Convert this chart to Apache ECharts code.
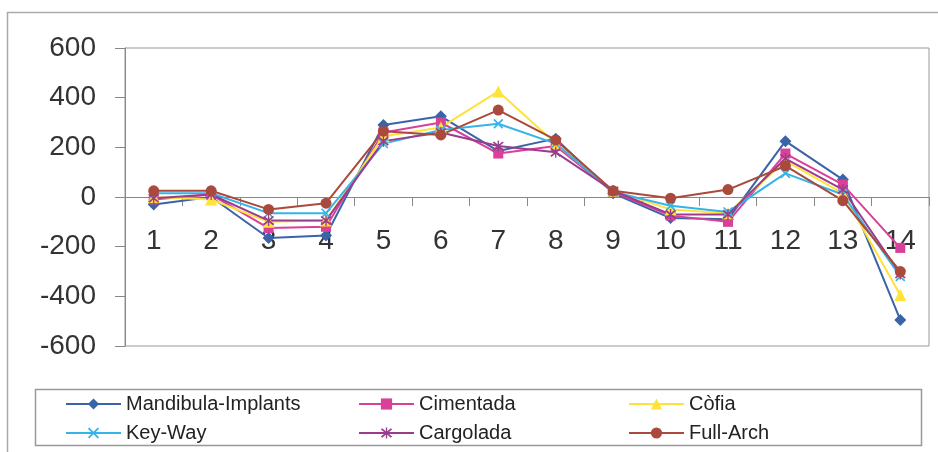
<!DOCTYPE html>
<html>
<head>
<meta charset="utf-8">
<script src="https://cdn.jsdelivr.net/npm/echarts@6/dist/echarts.min.js"></script>
<style>
html,body{margin:0;padding:0;background:#fff;}
#chart{width:938px;height:452px;}
</style>
</head>
<body>
<div id="chart"></div>
<script>
const categories = ['1','2','3','4','5','6','7','8','9','10','11','12','13','14'];
const mandibulaImplants = [-30, 0, -165, -155, 290, 325, 185, 235, 15, -85, -90, 225, 70, -495];
const cimentada        = [-10, 10, -125, -120, 260, 300, 175, 205, 20, -75, -100, 175, 50, -205];
const cofia            = [0, -10, -100, -95, 245, 280, 425, 215, 25, -50, -65, 145, 15, -395];
const keyWay           = [15, 15, -65, -65, 215, 270, 295, 215, 20, -35, -60, 95, 10, -320];
const cargolada        = [-5, 10, -95, -95, 225, 260, 205, 180, 25, -70, -70, 155, 30, -310];
const fullArch         = [25, 25, -50, -25, 265, 250, 350, 230, 25, -5, 30, 125, -15, -300];
const yTicks = {min: -600, max: 600, interval: 200};

const X_PATH = 'path://M0,1.2L1.2,0L5,3.8L8.8,0L10,1.2L6.2,5L10,8.8L8.8,10L5,6.2L1.2,10L0,8.8L3.8,5Z';
const STAR_PATH = 'path://M0,1.2L1.2,0L5,3.8L8.8,0L10,1.2L6.2,5L10,8.8L8.8,10L5,6.2L1.2,10L0,8.8L3.8,5Z M4.4,-1L5.6,-1L5.6,11L4.4,11Z';

const seriesDefs = [
  {name: 'Mandibula-Implants', data: mandibulaImplants, color: '#3a64a8', symbol: 'diamond', size: 12},
  {name: 'Cimentada', data: cimentada, color: '#d9409a', symbol: 'rect', size: 10},
  {name: 'Còfia', data: cofia, color: '#ffe23a', symbol: 'triangle', size: 12},
  {name: 'Key-Way', data: keyWay, color: '#36b4ea', symbol: X_PATH, size: 10},
  {name: 'Cargolada', data: cargolada, color: '#9a3c8e', symbol: STAR_PATH, size: 11},
  {name: 'Full-Arch', data: fullArch, color: '#a94a3c', symbol: 'circle', size: 11}
];
// legend placement: [series name, left, top]
const legendSlots = [
  ['Mandibula-Implants', 60, 389], ['Key-Way', 60, 418],
  ['Cimentada', 353, 389], ['Cargolada', 353, 418],
  ['Còfia', 623, 389], ['Full-Arch', 623, 418]
];

const chart = echarts.init(document.getElementById('chart'), null, {renderer: 'canvas'});
const FONT = 'Liberation Sans';

chart.setOption({
  animation: false,
  backgroundColor: '#fff',
  grid: {left: 125, right: 9, top: 48, bottom: 106, show: true, borderColor: '#999', borderWidth: 1},
  legend: legendSlots.map(s => ({
    left: s[1], top: s[2],
    data: [s[0]],
    itemWidth: 55, itemHeight: 14,
    textStyle: {fontFamily: FONT, fontSize: 20, color: '#222'},
    selectedMode: false
  })),
  xAxis: {
    type: 'category',
    data: categories,
    boundaryGap: true,
    offset: -149,
    axisLine: {onZero: false, lineStyle: {color: '#888', width: 1}},
    axisTick: {show: true, length: 9, lineStyle: {color: '#888'}},
    axisLabel: {fontFamily: FONT, fontSize: 28, color: '#333', margin: 30},
    splitLine: {show: false}
  },
  yAxis: {
    type: 'value',
    min: yTicks.min, max: yTicks.max, interval: yTicks.interval,
    axisLine: {show: true, lineStyle: {color: '#888', width: 1}},
    axisTick: {show: true, length: 10, lineStyle: {color: '#888'}},
    axisLabel: {fontFamily: FONT, fontSize: 28, color: '#333', margin: 29},
    splitLine: {show: false}
  },
  graphic: [
    {type: 'rect', shape: {x: 7.5, y: 12.5, width: 950, height: 460}, style: {fill: 'none', stroke: '#aaa', lineWidth: 1.5}, z: -1},
    {type: 'rect', shape: {x: 35.5, y: 389.5, width: 886, height: 56}, style: {fill: 'none', stroke: '#999', lineWidth: 1.5}, z: -1}
  ],
  series: seriesDefs.map(d => ({
    name: d.name,
    type: 'line',
    data: d.data,
    symbol: d.symbol,
    symbolSize: d.size,
    showAllSymbol: true,
    lineStyle: {color: d.color, width: 2},
    itemStyle: {color: d.color, borderWidth: 0},
    emphasis: {disabled: true}
  }))
});
</script>
</body>
</html>
